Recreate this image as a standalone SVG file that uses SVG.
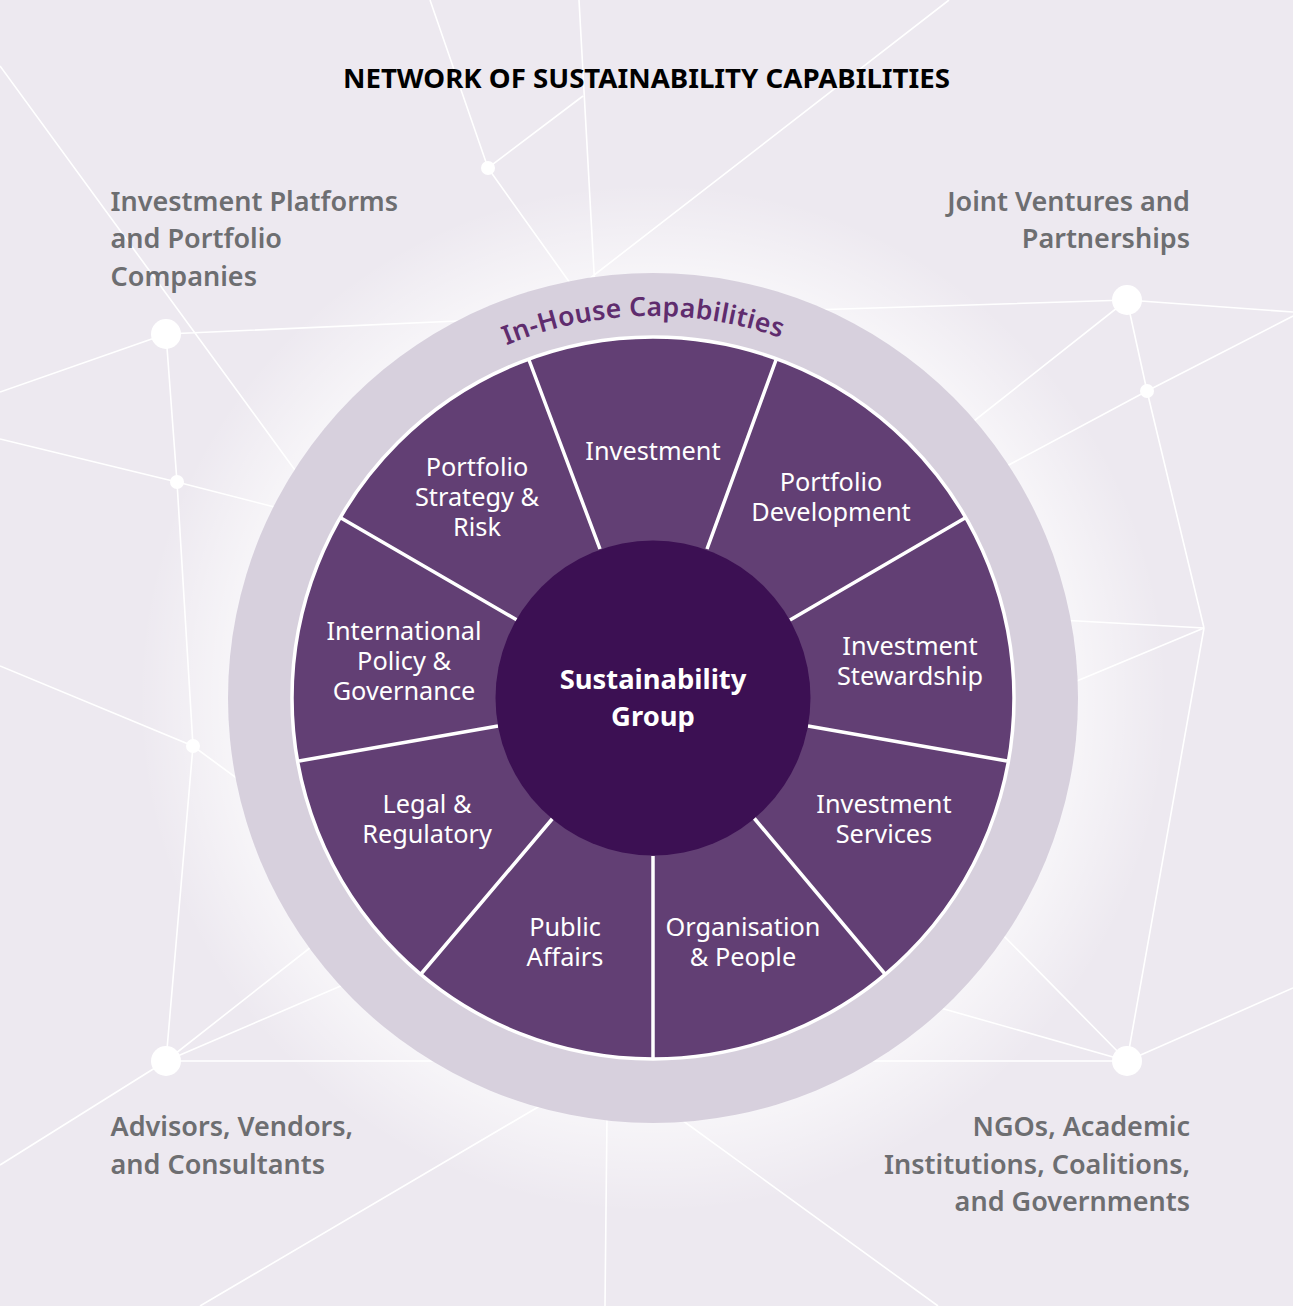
<svg xmlns="http://www.w3.org/2000/svg" width="1293" height="1306" viewBox="0 0 1293 1306">
<style>
text{font-family:"Noto Sans","Open Sans","Liberation Sans",sans-serif}
.l{fill:none;stroke:#fff;stroke-width:1.6}
.d{fill:#fff}
.g{font-size:27px;font-weight:600;fill:#6d6e71}
.e{text-anchor:end}
.s{font-size:25.300px;fill:#fff;text-anchor:middle}
.w{fill:#623f74}
.sp{stroke:#fff;stroke-width:3.5;fill:none}
.c{font-size:27.400px;font-weight:700;fill:#fff;text-anchor:middle}
</style>
<defs>
<radialGradient id="glow" gradientUnits="userSpaceOnUse" cx="653" cy="698" r="515">
<stop offset="0.82" stop-color="#fff" stop-opacity="0.55"/>
<stop offset="1" stop-color="#fff" stop-opacity="0"/>
</radialGradient>
<path id="curve" d="M 271 698 A 382 382 0 0 1 1035 698"/>
</defs>
<rect width="1293" height="1306" fill="#ede9f0"/>
<circle cx="653" cy="698" r="515" fill="url(#glow)"/>
<g id="connectors">
<path class="l" d="M0 66L300 477M166 334L480 320M166 334L0 392M166 334L177 482L193 746L166 1061M0 439L177 482L290 511M0 666L193 746L250 788"/>
<path class="l" d="M166 1061L320 940M166 1061L350 982M166 1061H450M166 1061L0 1165M200 1306L550 1100M607 1115L605 1306M675 1115L938 1306"/>
<path class="l" d="M930 1005L1127 1061M1000 932L1127 1061M1204 628L1127 1061M1293 988L1127 1061M860 1061H1127"/>
<path class="l" d="M810 310L1127 300L1293 312M960 432L1127 300L1147 391L1204 628M1293 316L1147 391L990 475M1060 620L1204 628L1060 688"/>
<path class="l" d="M430 0L488 168L583 96M488 168L575 290M579 0L595 290M949 0L580 286"/>
</g>
<g id="hub-investment-platforms"><circle class="d" cx="166" cy="334" r="15"/><text class="g" x="110.500" y="210.500">Investment Platforms</text><text class="g" x="110.500" y="248">and Portfolio</text><text class="g" x="110.500" y="285.500">Companies</text></g>
<g id="hub-joint-ventures"><circle class="d" cx="1127" cy="300" r="15"/><text class="g e" x="1190" y="210.500">Joint Ventures and</text><text class="g e" x="1190" y="248">Partnerships</text></g>
<g id="hub-advisors"><circle class="d" cx="166" cy="1061" r="15"/><text class="g" x="110.500" y="1136">Advisors, Vendors,</text><text class="g" x="110.500" y="1173.500">and Consultants</text></g>
<g id="hub-ngos"><circle class="d" cx="1127" cy="1061" r="15"/><text class="g e" x="1190" y="1136">NGOs, Academic</text><text class="g e" x="1190" y="1173.500">Institutions, Coalitions,</text><text class="g e" x="1190" y="1211">and Governments</text></g>
<g id="dots"><circle class="d" cx="488" cy="168" r="7"/><circle class="d" cx="177" cy="482" r="7"/><circle class="d" cx="193" cy="746" r="7"/><circle class="d" cx="1147" cy="391" r="7"/></g>
<text x="343" y="88" font-size="27" font-weight="700" fill="#000" textLength="607" lengthAdjust="spacingAndGlyphs">NETWORK OF SUSTAINABILITY CAPABILITIES</text>
<g id="ring"><circle cx="653" cy="698" r="425" fill="#d7d0dd"/>
<text font-size="26.500" font-weight="600" letter-spacing="0.300" fill="#5f2c6e" text-anchor="middle"><textPath href="#curve" startOffset="49.170%">In-House Capabilities</textPath></text></g>
<g id="wheel"><circle class="w" cx="653" cy="698" r="361" stroke="#fff" stroke-width="3.5"/>
<path class="sp" d="M600 549L529 360M707 549L776 360M790 620L965 518M808 726L1007 761M754 818L885 974M653 856V1059M553 818L421 974M498 726L299 761M517 620L341 518"/></g>
<g id="seg-investment"><text class="s" x="653" y="460">Investment</text></g>
<g id="seg-portfolio-development"><text class="s" x="831" y="491">Portfolio</text><text class="s" x="831" y="521">Development</text></g>
<g id="seg-stewardship"><text class="s" x="910" y="655">Investment</text><text class="s" x="910" y="685">Stewardship</text></g>
<g id="seg-services"><text class="s" x="884" y="813">Investment</text><text class="s" x="884" y="842.500">Services</text></g>
<g id="seg-organisation"><text class="s" x="743" y="936">Organisation</text><text class="s" x="743" y="965.500">&amp; People</text></g>
<g id="seg-public-affairs"><text class="s" x="565" y="936">Public</text><text class="s" x="565" y="965.500">Affairs</text></g>
<g id="seg-legal"><text class="s" x="427" y="813">Legal &amp;</text><text class="s" x="427" y="842.500">Regulatory</text></g>
<g id="seg-international"><text class="s" x="404" y="640">International</text><text class="s" x="404" y="670">Policy &amp;</text><text class="s" x="404" y="700">Governance</text></g>
<g id="seg-strategy"><text class="s" x="477" y="476">Portfolio</text><text class="s" x="477" y="506">Strategy &amp;</text><text class="s" x="477" y="536">Risk</text></g>
<g id="center"><circle cx="653" cy="698" r="157.500" fill="#3c1053"/><text class="c" x="653" y="689">Sustainability</text><text class="c" x="653" y="726">Group</text></g>
</svg>
